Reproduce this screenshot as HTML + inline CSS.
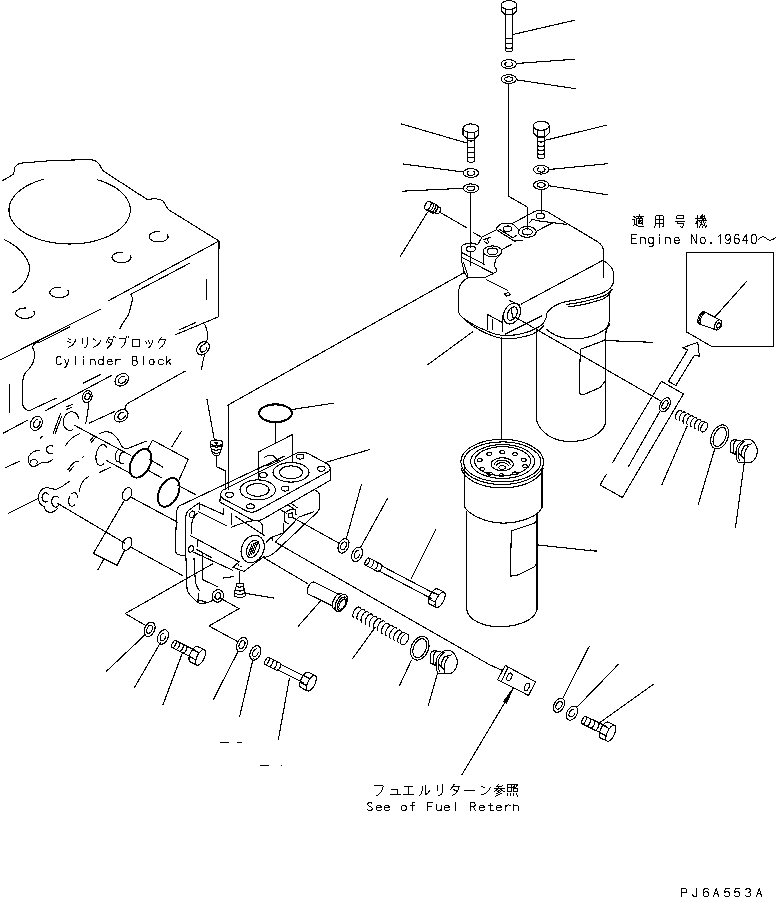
<!DOCTYPE html>
<html><head><meta charset="utf-8"><title>Fuel filter</title>
<style>
html,body{margin:0;padding:0;background:#fff;}
body{width:776px;height:897px;overflow:hidden;font-family:"Liberation Sans",sans-serif;}
svg{display:block}
svg *{vector-effect:none}
text{font-family:"Liberation Mono",monospace;fill:#000;stroke:none}
</style></head><body>
<svg width="776" height="897" viewBox="0 0 776 897" fill="none" stroke="#000" stroke-width="1.1" stroke-linecap="round" stroke-linejoin="round" shape-rendering="crispEdges">
<rect x="0" y="0" width="776" height="897" fill="#fff" stroke="none"/>
<ellipse cx="509" cy="4.968" rx="7.8" ry="4.368"/>
<line x1="501.2" y1="4.968" x2="501.2" y2="11.1"/>
<line x1="516.8" y1="4.968" x2="516.8" y2="11.1"/>
<polyline points="501.2,11.1 505.3,14.5 512.7,14.5 516.8,11.1"/>
<line x1="505.3" y1="8.4624" x2="505.3" y2="50.6"/>
<line x1="512.7" y1="8.8992" x2="512.7" y2="50.6"/>
<path d="M505.3,50.6 Q509,53.2 512.7,50.6"/>
<path d="M505.3,37.9 Q509,40.1 512.7,37.9"/>
<path d="M505.3,42.9 Q509,45.1 512.7,42.9"/>
<path d="M505.3,47.4 Q509,49.6 512.7,47.4"/>
<line x1="512.9" y1="34.5" x2="574" y2="20.4"/>
<ellipse cx="508.7" cy="64.1" rx="7.7" ry="4.4"/>
<polyline points="511.2,62.2 512.0,62.9 512.5,63.7 512.5,64.5 512.0,65.3 511.2,66.0 510.0,66.4 508.7,66.5 507.4,66.4 506.2,66.0 505.4,65.3 504.9,64.5 504.9,63.7 505.4,62.9 506.2,62.2"/>
<line x1="516.4" y1="63.5" x2="575" y2="59.2"/>
<ellipse cx="508.7" cy="79.1" rx="7.7" ry="4.4"/>
<ellipse cx="508.7" cy="79.1" rx="4.0040000000000004" ry="2.2"/>
<line x1="516.4" y1="79.8" x2="575" y2="88.6"/>
<polyline points="508.7,83.5 508.7,196.3 527.6,207.2 527.6,229"/>
<ellipse cx="470.9" cy="128.324" rx="7.9" ry="4.424"/>
<line x1="463.0" y1="128.324" x2="463.0" y2="135"/>
<line x1="478.79999999999995" y1="128.324" x2="478.79999999999995" y2="135"/>
<polyline points="463.0,135 467.2,138.6 474.59999999999997,138.6 478.79999999999995,135"/>
<line x1="467.2" y1="131.8632" x2="467.2" y2="161.2"/>
<line x1="474.59999999999997" y1="132.30560000000003" x2="474.59999999999997" y2="161.2"/>
<path d="M467.2,161.2 Q470.9,163.79999999999998 474.59999999999997,161.2"/>
<path d="M467.2,140 Q470.9,142.2 474.59999999999997,140"/>
<path d="M467.2,146.9 Q470.9,149.1 474.59999999999997,146.9"/>
<path d="M467.2,151.8 Q470.9,154.0 474.59999999999997,151.8"/>
<path d="M467.2,156.7 Q470.9,158.89999999999998 474.59999999999997,156.7"/>
<line x1="401.3" y1="123.9" x2="467.1" y2="143.1"/>
<ellipse cx="470.9" cy="173" rx="7.7" ry="4.4"/>
<polyline points="473.4,171.1 474.2,171.8 474.7,172.6 474.7,173.4 474.2,174.2 473.4,174.9 472.2,175.3 470.9,175.4 469.6,175.3 468.4,174.9 467.6,174.2 467.1,173.4 467.1,172.6 467.6,171.8 468.4,171.1"/>
<line x1="403.1" y1="164" x2="463.2" y2="172"/>
<ellipse cx="470.9" cy="188.3" rx="7.7" ry="4.4"/>
<ellipse cx="470.9" cy="188.3" rx="4.0040000000000004" ry="2.2"/>
<line x1="402" y1="191.2" x2="463" y2="188.3"/>
<line x1="470.7" y1="192.8" x2="470.7" y2="248"/>
<ellipse cx="541.2" cy="125.78" rx="8" ry="4.48"/>
<line x1="533.2" y1="125.78" x2="533.2" y2="133"/>
<line x1="549.2" y1="125.78" x2="549.2" y2="133"/>
<polyline points="533.2,133 537.6,137 544.8000000000001,137 549.2,133"/>
<line x1="537.6" y1="129.364" x2="537.6" y2="157.5"/>
<line x1="544.8000000000001" y1="129.812" x2="544.8000000000001" y2="157.5"/>
<path d="M537.6,157.5 Q541.2,160.1 544.8000000000001,157.5"/>
<path d="M537.6,141 Q541.2,143.2 544.8000000000001,141"/>
<path d="M537.6,145.5 Q541.2,147.7 544.8000000000001,145.5"/>
<path d="M537.6,149.5 Q541.2,151.7 544.8000000000001,149.5"/>
<path d="M537.6,153.5 Q541.2,155.7 544.8000000000001,153.5"/>
<line x1="545" y1="140.3" x2="606.4" y2="125.2"/>
<ellipse cx="541.2" cy="169.7" rx="7.7" ry="4.4"/>
<polyline points="543.7,167.8 544.5,168.5 545.0,169.3 545.0,170.1 544.5,170.9 543.7,171.6 542.5,172.0 541.2,172.1 539.9,172.0 538.7,171.6 537.9,170.9 537.4,170.1 537.4,169.3 537.9,168.5 538.7,167.8"/>
<line x1="549" y1="169.5" x2="607.8" y2="163.7"/>
<ellipse cx="541.2" cy="185" rx="7.7" ry="4.4"/>
<ellipse cx="541.2" cy="185" rx="4.0040000000000004" ry="2.2"/>
<line x1="549" y1="185.8" x2="607.8" y2="194.8"/>
<line x1="541.2" y1="189.5" x2="541.2" y2="214"/>
<g transform="translate(431.9,207.5) rotate(26)">
<ellipse cx="-4.5" cy="0" rx="2.6" ry="4.6"/>
<line x1="-4.5" y1="-4.6" x2="3" y2="-4.6"/>
<line x1="-4.5" y1="4.6" x2="3" y2="4.6"/>
<polyline points="-1.8,-4.6 -1.5,-4.6 -1.1,-4.4 -0.8,-4.2 -0.5,-4.0 -0.2,-3.6 0.0,-3.3 0.3,-2.8 0.5,-2.3 0.6,-1.8 0.7,-1.2 0.8,-0.6 0.8,0.0 0.8,0.6 0.7,1.2 0.6,1.8 0.5,2.3 0.3,2.8 0.0,3.3 -0.2,3.6 -0.5,4.0 -0.8,4.2 -1.1,4.4 -1.5,4.6 -1.8,4.6"/>
<polyline points="0.6,-4.6 0.9,-4.6 1.3,-4.4 1.6,-4.2 1.9,-4.0 2.2,-3.6 2.4,-3.3 2.7,-2.8 2.9,-2.3 3.0,-1.8 3.1,-1.2 3.2,-0.6 3.2,0.0 3.2,0.6 3.1,1.2 3.0,1.8 2.9,2.3 2.7,2.8 2.4,3.3 2.2,3.6 1.9,4.0 1.6,4.2 1.3,4.4 0.9,4.6 0.6,4.6"/>
<polyline points="3.0,-4.6 3.3,-4.6 3.7,-4.4 4.0,-4.2 4.3,-4.0 4.6,-3.6 4.8,-3.3 5.1,-2.8 5.3,-2.3 5.4,-1.8 5.5,-1.2 5.6,-0.6 5.6,0.0 5.6,0.6 5.5,1.2 5.4,1.8 5.3,2.3 5.1,2.8 4.8,3.3 4.6,3.6 4.3,4.0 4.0,4.2 3.7,4.4 3.3,4.6 3.0,4.6"/>
<line x1="3" y1="-3.6" x2="7" y2="-3.6"/>
<line x1="3" y1="3.6" x2="7" y2="3.6"/>
<ellipse cx="7" cy="0" rx="2" ry="3.6"/>
</g>
<line x1="427.3" y1="212.4" x2="400.4" y2="256.2"/>
<line x1="439.3" y1="212" x2="466.7" y2="227.7"/>
<line x1="473.4" y1="232.6" x2="481.9" y2="237.5"/>
<path d="M513.8,222.7 L535,211.3 C538,209.8 544,210 547.8,212 L597.7,241.8 C602,244.5 603.5,247 603.5,252 L603.5,277"/>
<ellipse cx="540.3" cy="215.9" rx="4.3" ry="2.8"/>
<polyline points="532.2,219.1 536.5,220.6 566.4,224.4"/>
<line x1="529.4" y1="222.7" x2="532.2" y2="219.4"/>
<line x1="537.9" y1="230.5" x2="553.7" y2="222.3"/>
<ellipse cx="527.3" cy="231.9" rx="8.9" ry="5.4"/>
<ellipse cx="527.3" cy="231.9" rx="5" ry="3.1"/>
<path d="M496.1,230 C496.5,226.5 500,223.6 504.5,223.3 L511,223.3 L513.8,224.8 L519.5,230.5"/>
<path d="M503.2,228.8 C503.2,226.5 505,226 507.4,226 C510,226 511.6,227.2 511.6,228.8 C511.6,230.6 510,231.6 507.4,231.6 C505,231.6 503.2,231 503.2,228.8Z"/>
<line x1="497.5" y1="230.5" x2="514.5" y2="241.1"/>
<line x1="499" y1="229" x2="512.4" y2="237.5"/>
<path d="M514.5,241.1 L522.3,240.1"/>
<line x1="513" y1="237.5" x2="517" y2="235"/>
<line x1="481.9" y1="237.1" x2="496.1" y2="230"/>
<ellipse cx="492.5" cy="251.3" rx="9.2" ry="5.4"/>
<ellipse cx="492.5" cy="251.3" rx="5.4" ry="3.3"/>
<line x1="501.7" y1="249.6" x2="511.7" y2="244.4"/>
<line x1="483.3" y1="252.4" x2="483.7" y2="263.8"/>
<path d="M500.3,254.6 L495.4,259.5 L494.6,266.6 L496.6,269 L496.8,271.5 L492.5,274 L485.4,277.2 L467.7,277.7"/>
<ellipse cx="470.8" cy="248.9" rx="4.5" ry="2.8"/>
<path d="M461.3,246.8 C462,244.5 464.2,243.6 471.3,243 L477.6,244.6 L479.8,241.1 L481.9,237.1"/>
<path d="M461.3,246.8 L461.6,261 L464.2,272.3 L467.7,277.7"/>
<line x1="463.5" y1="262.4" x2="467.7" y2="275.1"/>
<line x1="461.3" y1="252.4" x2="484.7" y2="264.5"/>
<line x1="462" y1="257.4" x2="492.5" y2="273"/>
<line x1="470.6" y1="252.4" x2="470.6" y2="265.2"/>
<line x1="483.5" y1="239.7" x2="491" y2="237.1"/>
<line x1="484.7" y1="241.8" x2="487.5" y2="243.9"/>
<line x1="487.5" y1="240" x2="489" y2="243"/>
<path d="M469,277.4 C464,279 459.5,284 458.6,290.2 L458.6,311 C459,314.5 461,316.5 463.2,318 C470,323 478,327.5 486.4,330.7 C492,333.5 498,335.4 505,335.4 C511,335.6 516,335 521.2,333.8 C527,332.5 532,330.7 536.3,328.4 C540.5,326.2 543,324 544.4,321.5 C546,319 546.7,316 546.7,313.4 C549,309.5 552,307 556,305.2 C559,303.5 562,302.5 565.3,301.8 C570,300.8 575,300 579.2,299.4 C586,298 592,296.6 597.7,294.8 C603,293 608,290.5 610.5,287.8 C613,285 613.8,283 613.5,280.9 C614.3,276 614,273 612.8,270.4 C611.5,266.5 608,263.5 604.7,261.2"/>
<path d="M465.5,320.3 C474,327.5 485,334 498,337.6 C503,339 510,339.2 517,338 C524,337 529,335.5 532.8,334.2 C538,331.5 541,329 543.5,326"/>
<path d="M566.4,304.5 C578,303 592,300 602.4,296.5 C607,294.5 610,292.5 612,289.5"/>
<path d="M568,307 C580,305.5 593,302.5 603,299 C607,297 609,295 610.5,292.5"/>
<line x1="603.5" y1="260" x2="521.2" y2="304.1"/>
<polyline points="486.4,279.7 507.5,290.3"/>
<polygon points="504.5,294 508.5,292.4 510.6,294.6 506.5,296"/>
<line x1="509.6" y1="300.6" x2="520" y2="305.2"/>
<ellipse cx="512" cy="313.6" rx="7.8" ry="11" transform="rotate(27 512 313.6)"/>
<ellipse cx="512.2" cy="313.6" rx="4.4" ry="7.2" transform="rotate(27 512.2 313.6)"/>
<line x1="511" y1="309" x2="513.2" y2="318.4"/>
<line x1="502.6" y1="315.7" x2="502.6" y2="331.9"/>
<polyline points="487.6,329.6 487.6,314.5 502.6,322.6"/>
<line x1="492.2" y1="319.2" x2="492.2" y2="329.6"/>
<line x1="542" y1="315.7" x2="505" y2="334.2"/>
<line x1="515.6" y1="317.4" x2="661.2" y2="401.2"/>
<line x1="227.8" y1="405.2" x2="463.5" y2="273"/>
<line x1="428" y1="364.5" x2="472.5" y2="331.9"/>
<line x1="536.3" y1="327.5" x2="536.3" y2="417.4"/>
<path d="M536.3,417.4 C537,428 548,439.5 564.9,441.2 C578,442 588,439.5 593.9,436.2 C601,432 605.5,428 605.6,421.5 L605.6,332"/>
<path d="M546.7,329.6 C550,332.5 553,334 556,335.4 C562,338 568,338.9 574.5,338.9 C581,338.9 586,338 590.8,336.5 C596,334.8 600,332.8 604.7,329.6 C607,328 609,326.5 609.6,324"/>
<path d="M609.6,292 L609.6,320.2 L606,332.5"/>
<path d="M605.9,339 L602.4,341.2 L580.3,349.3 L579.2,392.2 C580,394.5 582,395 583.8,394.5 L600,387.6 L605.6,380.6"/>
<line x1="606.7" y1="340.6" x2="652.6" y2="342.3"/>
<line x1="501.5" y1="337.7" x2="501.5" y2="439.1"/>
<ellipse cx="502.2" cy="461.9" rx="41.4" ry="22.6"/>
<ellipse cx="502.2" cy="461.9" rx="38.7" ry="20"/>
<ellipse cx="502.6" cy="461.5" rx="32" ry="16.9"/>
<ellipse cx="502.6" cy="461.2" rx="28" ry="14.5"/>
<polyline points="543.2,468.4 542.2,471.1 540.7,473.6 538.6,476.1 536.0,478.4 532.9,480.5 529.4,482.4 525.5,484.0 521.2,485.4 516.7,486.5 512.0,487.3 507.1,487.7 502.2,487.9 497.3,487.7 492.4,487.3 487.7,486.5 483.2,485.4 478.9,484.0 475.0,482.4 471.5,480.5 468.4,478.4 465.8,476.1 463.7,473.6 462.2,471.1 461.2,468.4"/>
<ellipse cx="502.2" cy="464.2" rx="11.1" ry="6.5"/>
<polyline points="494.2,464.8 494.3,464.2 494.5,463.6 494.8,463.0 495.3,462.5 495.9,462.0 496.5,461.5 497.3,461.2 498.2,460.8 499.1,460.6 500.1,460.4 501.2,460.2 502.2,460.2 503.2,460.2 504.3,460.4 505.3,460.6 506.2,460.8 507.1,461.2 507.9,461.5 508.5,462.0 509.1,462.5 509.6,463.0 509.9,463.6 510.1,464.2 510.2,464.8"/>
<polyline points="496.2,466.0 496.3,465.6 496.4,465.1 496.7,464.7 497.0,464.3 497.4,463.9 498.0,463.6 498.5,463.3 499.2,463.1 499.9,462.9 500.6,462.7 501.4,462.6 502.2,462.6 503.0,462.6 503.8,462.7 504.5,462.9 505.2,463.1 505.9,463.3 506.4,463.6 507.0,463.9 507.4,464.3 507.7,464.7 508.0,465.1 508.1,465.6 508.2,466.0"/>
<polyline points="505.7,467.5 505.6,468.0 505.2,468.4 504.7,468.8 503.9,469.1 503.1,469.2 502.2,469.3 501.3,469.2 500.4,469.1 499.7,468.8 499.2,468.4 498.8,468.0 498.7,467.5 498.8,467.0 499.2,466.6 499.7,466.2 500.4,465.9 501.3,465.8 502.2,465.7 503.1,465.8 503.9,465.9 504.7,466.2 505.2,466.6 505.6,467.0 505.7,467.5"/>
<ellipse cx="489.2" cy="453.8" rx="2.4" ry="1.5"/>
<ellipse cx="502.2" cy="452.1" rx="2.4" ry="1.5"/>
<ellipse cx="515" cy="454.1" rx="2.4" ry="1.5"/>
<ellipse cx="523.7" cy="459.9" rx="2.4" ry="1.5"/>
<ellipse cx="525.1" cy="466.3" rx="2.4" ry="1.5"/>
<ellipse cx="479.8" cy="460.2" rx="2.4" ry="1.5"/>
<ellipse cx="482.2" cy="469" rx="2.4" ry="1.5"/>
<ellipse cx="489.9" cy="473.7" rx="2.4" ry="1.5"/>
<ellipse cx="501.4" cy="475.3" rx="2.4" ry="1.5"/>
<ellipse cx="515" cy="473.5" rx="2.4" ry="1.5"/>
<line x1="464.2" y1="468" x2="464.2" y2="506.2"/>
<line x1="542" y1="468" x2="542" y2="507.5"/>
<path d="M464.2,506.2 C468,514 484,522.5 502.2,523.1 C518,523.3 533,518 539.3,511.6 L542,507.5"/>
<line x1="466.8" y1="511.6" x2="466.8" y2="610"/>
<line x1="537" y1="513.5" x2="537" y2="610"/>
<path d="M466.8,610 C468,619 482,626.5 498.3,626.7 C516,627 534,621 537,610"/>
<path d="M537.3,519 L534.5,523.2 L511.3,531 L510.4,576.2 L518.6,574.8 L534.5,566.7 L537,563"/>
<line x1="537.4" y1="544.9" x2="596.8" y2="551.3"/>
<polygon points="686.5,252.3 773.7,252.3 773.7,346.1 711.1,346.1 686.5,331.9"/>
<g transform="translate(700.8,317.4) rotate(23.5)">
<polyline points="1.3,6.7 0.4,6.6 -0.4,6.0 -1.2,4.9 -1.7,3.5 -2.1,1.8 -2.2,0.0 -2.1,-1.8 -1.7,-3.5 -1.2,-4.9 -0.4,-6.0 0.4,-6.6 1.3,-6.7"/>
<polyline points="1.7,6.6 0.9,6.0 0.1,4.9 -0.4,3.5 -0.8,1.8 -0.9,-0.1 -0.8,-2.0 -0.4,-3.7 0.2,-5.1 1.0,-6.1 1.9,-6.6"/>
<polyline points="3.0,6.4 2.2,5.8 1.4,4.8 0.9,3.4 0.5,1.7 0.4,-0.1 0.5,-1.9 0.9,-3.6 1.5,-4.9 2.3,-5.9 3.2,-6.4"/>
<line x1="1.2" y1="-6.7" x2="4.5" y2="-6.5"/>
<line x1="4.5" y1="-6.3" x2="19" y2="-5.3"/>
<line x1="1.2" y1="6.7" x2="19" y2="5.3"/>
<ellipse cx="19" cy="0" rx="3.2" ry="5.3"/>
<ellipse cx="19.4" cy="0.3" rx="1.6" ry="2.8"/>
</g>
<line x1="715.5" y1="316.3" x2="747.1" y2="280.9"/>
<polygon points="668.4,381.3 687.7,350 682.6,347.8 697.7,342.3 699.4,356.2 694.3,355.3 675.9,385.5"/>
<polyline points="612.8,462.3 661.3,381.3 683.5,393.9 622.4,497.5 600,485 606.3,474.3"/>
<line x1="659.5" y1="412" x2="628.4" y2="466.6"/>
<ellipse cx="665" cy="404.8" rx="4.6" ry="7.6" transform="rotate(28 665 404.8)"/>
<ellipse cx="665" cy="404.8" rx="2.4" ry="4.6" transform="rotate(28 665 404.8)"/>
<line x1="650" y1="342.3" x2="652.6" y2="342.3"/>
<g transform="translate(677.8,414.4) rotate(25.9)">
<polyline points="0.8,5.2 0.1,4.8 -0.6,4.1 -1.1,3.0 -1.4,1.6 -1.6,0.2 -1.5,-1.3 -1.2,-2.7 -0.7,-3.9 -0.1,-4.7 0.7,-5.1 1.4,-5.1 2.1,-4.7"/>
<polyline points="5.0,5.2 4.3,4.8 3.6,4.1 3.1,3.0 2.8,1.6 2.6,0.2 2.7,-1.3 3.0,-2.7 3.5,-3.9 4.1,-4.7 4.9,-5.1 5.6,-5.1 6.3,-4.7"/>
<polyline points="9.2,5.2 8.5,4.8 7.8,4.1 7.3,3.0 7.0,1.6 6.8,0.2 6.9,-1.3 7.2,-2.7 7.7,-3.9 8.3,-4.7 9.0,-5.1 9.8,-5.1 10.5,-4.7"/>
<polyline points="13.4,5.2 12.7,4.8 12.0,4.1 11.5,3.0 11.1,1.6 11.0,0.2 11.1,-1.3 11.4,-2.7 11.9,-3.9 12.5,-4.7 13.2,-5.1 14.0,-5.1 14.7,-4.7"/>
<polyline points="17.6,5.2 16.8,4.8 16.2,4.1 15.7,3.0 15.3,1.6 15.2,0.2 15.3,-1.3 15.6,-2.7 16.1,-3.9 16.7,-4.7 17.4,-5.1 18.2,-5.1 18.9,-4.7"/>
<polyline points="21.8,5.2 21.0,4.8 20.4,4.1 19.9,3.0 19.5,1.6 19.4,0.2 19.5,-1.3 19.8,-2.7 20.3,-3.9 20.9,-4.7 21.6,-5.1 22.4,-5.1 23.1,-4.7"/>
<polyline points="26.0,5.2 25.2,4.8 24.6,4.1 24.1,3.0 23.7,1.6 23.6,0.2 23.7,-1.3 24.0,-2.7 24.5,-3.9 25.1,-4.7 25.8,-5.1 26.6,-5.1 27.3,-4.7"/>
<ellipse cx="29.339393313427685" cy="0" rx="2.8600000000000003" ry="5.2"/>
</g>
<line x1="687" y1="426.3" x2="661.9" y2="484.6"/>
<ellipse cx="719.7" cy="436.9" rx="8.2" ry="12.6" transform="rotate(24 719.7 436.9)"/>
<ellipse cx="719.7" cy="436.9" rx="5.799999999999999" ry="10.2" transform="rotate(24 719.7 436.9)"/>
<line x1="714.4" y1="450" x2="698.3" y2="504.2"/>
<g transform="translate(744.6,451.4)">
<path d="M-9.5,-11.7 C-13,-11.5 -14.5,-9 -14.5,-6 L-14.5,0.5 L-9,3"/>
<path d="M-8,-11.2 C-10.5,-10 -11,-8.5 -11.2,-6 L-11.6,1.8"/>
<line x1="-9.5" y1="-11.7" x2="-3.4" y2="-10.4"/>
<path d="M9,-9.4 C7,-11.5 5,-12 3.9,-12 C0,-12 -2,-11 -3.4,-9.8 C-6.5,-7 -8.3,-4 -8.5,-1.2 C-8.8,3 -8.5,7 -7.5,9.1 C-7,10.3 -6.3,11 -5.4,11.2 L5.9,11.2"/>
<path d="M-0.6,-9.8 C-4,-7 -5.8,-4 -6,-1.2 C-6.3,3 -6,7 -5.2,9.2"/>
<path d="M9,-9.4 C11.5,-6 12.6,-3.5 12.6,-1.2 C12.8,2 12.3,4.5 11.1,6.1 C9.8,8.5 8,10.3 5.9,11.2"/>
<path d="M7,-7.6 L-0.3,-5.3 C-2.5,-2.5 -3.3,0.5 -3.2,3.4"/>
<line x1="-0.3" y1="3" x2="-0.3" y2="11.2"/>
<line x1="-5.9" y1="1.9" x2="-0.3" y2="7.1"/>
<path d="M-0.3,3 C0.3,-0.5 1.6,-3 3.6,-5.2"/>
</g>
<line x1="744.3" y1="462.5" x2="735.5" y2="527.5"/>
<path d="M2,181 L13,174.5 C15,172 14,169 15,167 C17,164 19,163.5 22,163 L53,160.5 L90,159.6 C95,160 97,161.5 99,164 C101,167 102,170 104,171.5 L148,200 C150,199 152,198.6 154,199 C158,198.5 161,199.5 163,201 C166,204 166,208 169,210 L219,241"/>
<line x1="219" y1="241" x2="218.7" y2="316.7"/>
<line x1="219" y1="241" x2="108" y2="301"/>
<path d="M190,263 L130.4,294.5 C133,297 133,299.5 131.9,301.9 C130.5,307 130,312 127.4,316.7 C124,321 121.5,324.5 120,328.6"/>
<line x1="218.7" y1="316.7" x2="176" y2="334.5"/>
<line x1="195.6" y1="322.6" x2="179" y2="330"/>
<path d="M204.5,324.1 C206.5,328 208,333 207.5,337.5 C207,341 206,343 204.5,344"/>
<line x1="206.6" y1="279.7" x2="206.6" y2="299"/>
<polyline points="97.2,179.7 101.9,181.2 106.3,182.9 110.5,184.9 114.3,187.0 117.8,189.3 120.9,191.8 123.6,194.5 125.9,197.2 127.7,200.1 129.0,203.0 129.9,206.0 130.3,209.1 130.2,212.1 129.6,215.1 128.6,218.1 127.0,221.0 125.1,223.8 122.6,226.5 119.8,229.1 116.5,231.6 112.9,233.8 109.0,235.9 104.7,237.7 100.1,239.4 95.3,240.8 90.3,242.0 85.2,242.9 79.9,243.5 74.5,243.9 69.1,244.0 63.7,243.8 58.3,243.4 53.0,242.7 47.9,241.7 42.9,240.5 38.2,239.1 33.7,237.4 29.4,235.5 25.5,233.4 22.0,231.1 18.8,228.6 16.1,226.0 13.7,223.3 11.8,220.4 10.4,217.5 9.4,214.5 9.0,211.5 9.0,208.5 9.4,205.4 10.4,202.4 11.9,199.5 13.8,196.7 16.1,193.9 18.9,191.3 22.0,188.9 25.6,186.6 29.5,184.5 33.7,182.6 38.2,180.9 43.0,179.4"/>
<path d="M4.4,239.7 C16,245 26,254 29.6,266 C30,278 22,288 11.9,293"/>
<polyline points="167.2,234.5 167.9,235.6 168.1,236.7 167.9,237.8 167.2,238.9 166.1,239.9 164.7,240.7 163.0,241.3 161.1,241.7 159.0,241.9 157.0,241.8 155.0,241.5 153.2,241.0 151.6,240.2 150.4,239.3 149.5,238.3 149.1,237.2 149.2,236.0 149.7,234.9 150.6,233.9 151.9,233.0 153.5,232.3 155.4,231.8 157.4,231.5 159.4,231.5"/>
<polyline points="130.1,255.2 130.8,256.3 131.0,257.4 130.8,258.5 130.1,259.6 129.0,260.6 127.6,261.4 125.9,262.0 124.0,262.4 121.9,262.6 119.9,262.5 117.9,262.2 116.1,261.7 114.5,260.9 113.3,260.0 112.4,259.0 112.0,257.9 112.1,256.7 112.6,255.6 113.5,254.6 114.8,253.7 116.4,253.0 118.3,252.5 120.3,252.2 122.3,252.2"/>
<polyline points="67.9,290.2 68.6,291.3 68.8,292.4 68.6,293.5 67.9,294.6 66.8,295.6 65.4,296.4 63.7,297.0 61.8,297.4 59.7,297.6 57.7,297.5 55.7,297.2 53.9,296.7 52.3,295.9 51.1,295.0 50.2,294.0 49.8,292.9 49.9,291.7 50.4,290.6 51.3,289.6 52.6,288.7 54.2,288.0 56.1,287.5 58.1,287.2 60.1,287.2"/>
<polyline points="33.8,311.0 34.5,312.1 34.7,313.2 34.5,314.3 33.8,315.4 32.7,316.4 31.3,317.2 29.6,317.8 27.7,318.2 25.6,318.4 23.6,318.3 21.6,318.0 19.8,317.5 18.2,316.7 17.0,315.8 16.1,314.8 15.7,313.7 15.8,312.5 16.3,311.4 17.2,310.4 18.5,309.5 20.1,308.8 22.0,308.3 24.0,308.0 26.0,308.0"/>
<line x1="0" y1="360" x2="100.8" y2="309"/>
<line x1="38.1" y1="343" x2="69.6" y2="327"/>
<path d="M38.1,341.7 C34,344 32,346 32.8,348 C35,352 35,356 33.9,359.7 C33,364 31,366 29.7,368.1 C27,371 25,373 24.4,374.5 C23,377 22.9,379 22.9,380.8 L22.9,405.2 C24,409 27,410.5 29.7,410.5 L56.1,398.2"/>
<line x1="9.1" y1="384" x2="9.1" y2="412.6"/>
<line x1="83.7" y1="383" x2="100.6" y2="374.5"/>
<line x1="3.2" y1="433.2" x2="28" y2="420"/>
<line x1="45" y1="411" x2="111.2" y2="375.6"/>
<ellipse cx="36.3" cy="423.4" rx="7.4" ry="5.6" transform="rotate(-62 36.3 423.4)"/>
<polyline points="40.0,421.5 40.0,423.1 39.5,424.7 38.5,426.1 37.2,427.1 35.8,427.4 34.6,427.0 33.8,426.0 33.5,424.5 33.8,422.8 34.6,421.3 35.8,420.1 37.2,419.5"/>
<ellipse cx="121.8" cy="379.8" rx="7.4" ry="5.6" transform="rotate(-35 121.8 379.8)"/>
<polyline points="126.0,379.5 125.3,381.0 124.1,382.2 122.6,383.0 121.0,383.2 119.6,382.9 118.7,382.0 118.5,380.7 118.9,379.3 119.9,377.9 121.3,376.9 122.9,376.4 124.4,376.5"/>
<ellipse cx="121.2" cy="415.8" rx="7.4" ry="5.6" transform="rotate(-35 121.2 415.8)"/>
<polyline points="125.4,415.5 124.7,417.0 123.5,418.2 122.0,419.0 120.4,419.2 119.0,418.9 118.1,418.0 117.9,416.7 118.3,415.3 119.3,413.9 120.7,412.9 122.3,412.4 123.8,412.5"/>
<ellipse cx="87.3" cy="396.7" rx="4.6" ry="6.2" transform="rotate(20 87.3 396.7)"/>
<ellipse cx="87.5" cy="396.5" rx="2.4" ry="3.6" transform="rotate(20 87.5 396.5)"/>
<path d="M88.5,402.8 C88.5,410 87,417 85.8,423.2"/>
<line x1="89" y1="423.2" x2="114.4" y2="411.6"/>
<path d="M125,409.4 C125,406 126,404.5 127.6,403.5 L185.2,371.1"/>
<ellipse cx="203" cy="348.3" rx="7.4" ry="5.6" transform="rotate(-50 203 348.3)"/>
<polyline points="207.0,347.1 206.7,348.6 205.9,350.1 204.6,351.3 203.1,352.0 201.7,352.0 200.6,351.3 200.0,350.2 200.0,348.7 200.7,347.1 201.8,345.8 203.2,344.9 204.7,344.5"/>
<path d="M204.5,354.8 C203,360 202,365 201.5,369.6"/>
<polyline points="72.6,429.9 70.8,430.4 69.0,430.3 67.3,429.7 65.8,428.6 64.6,427.1 63.8,425.3 63.3,423.2 63.3,421.1 63.7,418.9 64.5,416.9 65.7,415.0 67.2,413.6 68.8,412.5 70.6,411.9 72.5,411.8 74.2,412.3 75.7,413.2 77.0,414.6 78.0,416.3 78.6,418.3"/>
<line x1="74.5" y1="425.3" x2="130.8" y2="455.5"/>
<line x1="53" y1="433.8" x2="60.4" y2="413.7"/>
<line x1="55" y1="434" x2="61.8" y2="416"/>
<line x1="66" y1="407" x2="72.5" y2="404.5"/>
<line x1="66.5" y1="409.5" x2="71" y2="407.6"/>
<path d="M29,456 C32,452 36,450 40,451 M29,456 C27.5,460 28.5,464 32,466.5 C36,467.5 38,464 42,462.5 C46,463.5 50,462 53,459"/>
<polyline points="31.0,463.2 30.5,462.2 30.7,461.1 31.5,460.2 32.8,459.7 34.3,459.5 35.8,459.8 36.9,460.6 37.4,461.6 37.4,462.6 36.7,463.6"/>
<polyline points="53.0,453.2 51.6,453.6 50.0,453.6 48.5,453.2 47.4,452.3 46.6,451.1 46.3,449.7 46.6,448.3 47.4,447.1 48.5,446.2 50.0,445.8 51.6,445.8 53.0,446.2"/>
<line x1="5.3" y1="467.7" x2="19.1" y2="461.4"/>
<path d="M65.7,445.5 C69,440 74,436 79.4,433.8"/>
<line x1="40.5" y1="438" x2="43" y2="436"/>
<line x1="82" y1="458" x2="84" y2="456"/>
<polyline points="103.8,463.6 102.4,464.8 101.0,465.4 99.5,465.4 98.3,464.6 97.2,463.3 96.4,461.5 96.0,459.2 95.9,456.7 96.2,454.0 96.8,451.5 97.8,449.1 99.0,447.1 100.3,445.7 101.8,444.8 103.2,444.5 104.6,444.9 105.7,446.0 106.7,447.6"/>
<polyline points="119.1,460.9 117.8,461.4 116.7,461.0 115.8,459.8 115.4,457.8 115.5,455.5 116.0,453.2 117.0,451.2 118.1,450.0 119.4,449.6 120.5,450.1"/>
<polyline points="123.1,463.4 121.8,463.9 120.7,463.5 119.8,462.3 119.4,460.3 119.5,458.0 120.0,455.7 121.0,453.7 122.1,452.5 123.4,452.1 124.5,452.6"/>
<line x1="106.5" y1="460.5" x2="130.5" y2="473.5"/>
<path d="M99.6,433.8 C104,430.5 110,431.5 113,434 C117,437 119,441 120.5,444 C122,447.5 125,449 128,448.5 L146.2,441.2"/>
<line x1="90" y1="441" x2="94" y2="436"/>
<line x1="91.5" y1="442" x2="95.5" y2="437.5"/>
<line x1="99.5" y1="472.5" x2="110" y2="467.5"/>
<line x1="67.8" y1="469.8" x2="72" y2="464.5"/>
<line x1="69.5" y1="471" x2="74" y2="466"/>
<path d="M72,464.5 C74,462 76,461 78,461.5"/>
<path d="M79.4,491 C80,484 84,479 89,476.2"/>
<path d="M38.5,498.6 C38,493 41,488.5 46,487.5 C50,487.5 53,490 57,489 C62,487 66,484 69,481.5"/>
<path d="M38.5,498.6 C39,503 41,505.5 44,506.5 C45,510 47,512 50,512.5 C54,512.5 56,510 58,508"/>
<polyline points="47.9,500.9 46.7,501.8 45.3,502.0 43.9,501.5 42.8,500.4 42.2,498.8 42.0,497.0 42.4,495.3 43.3,493.9 44.5,493.0 45.9,492.8 47.3,493.3 48.4,494.4"/>
<polyline points="58.9,505.2 57.8,506.4 56.5,507.1 55.1,507.1 53.8,506.4 52.7,505.2 52.0,503.5 51.8,501.6 52.0,499.7 52.7,498.0 53.8,496.8 55.1,496.1 56.5,496.1 57.8,496.8 58.9,498.0"/>
<polyline points="75.0,504.7 74.1,505.6 73.0,506.1 72.0,506.3 71.1,506.2 70.2,505.7 69.5,504.8 69.0,503.7 68.7,502.3 68.7,500.8 68.9,499.2 69.3,497.6 69.9,496.2"/>
<polyline points="71.9,493.6 72.8,493.0 73.8,492.7 74.7,492.7 75.6,493.0 76.3,493.7 76.9,494.6 77.3,495.7 77.5,497.1"/>
<line x1="8.5" y1="513.3" x2="38.1" y2="498.4"/>
<line x1="57.8" y1="503.5" x2="124.5" y2="543"/>
<ellipse cx="127.1" cy="494.1" rx="4.4" ry="6.8" transform="rotate(25 127.1 494.1)"/>
<ellipse cx="127.1" cy="543.9" rx="4.4" ry="6.8" transform="rotate(25 127.1 543.9)"/>
<line x1="131.4" y1="497.4" x2="177.8" y2="522.3"/>
<line x1="131.4" y1="547.5" x2="182.4" y2="575.5"/>
<polyline points="124.5,500 93.4,553.4 117.1,565.2 124.8,549.8"/>
<line x1="103.7" y1="559.3" x2="97.8" y2="570"/>
<ellipse cx="140.6" cy="463.3" rx="9.5" ry="15.3" transform="rotate(27 140.6 463.3)" stroke-width="1.9"/>
<ellipse cx="168.7" cy="492.4" rx="9.5" ry="15.3" transform="rotate(27 168.7 492.4)" stroke-width="1.9"/>
<polyline points="147.3,449.7 152.6,440.2 188.2,459.4 179.3,479.3"/>
<line x1="171.9" y1="446.7" x2="181.4" y2="431.3"/>
<line x1="148.2" y1="470.4" x2="161.5" y2="477.8"/>
<line x1="177.8" y1="485.2" x2="195.6" y2="494.7"/>
<line x1="150" y1="459.5" x2="163" y2="467.2"/>
<g transform="translate(216.3,448)">
<ellipse cx="0" cy="-5.2" rx="6.3" ry="2.8"/>
<path d="M-1.6,-5.8 L1.6,-5.8 L0,-3.9 Z"/>
<line x1="-6.3" y1="-5.2" x2="-5.9" y2="-2.2"/>
<line x1="6.3" y1="-5.2" x2="5.9" y2="-2.2"/>
<path d="M-5.9,-2.2 Q0,0.3999999999999999 5.9,-2.2"/>
<line x1="-5.9" y1="-2.2" x2="-5.1" y2="0.9"/>
<line x1="5.9" y1="-2.2" x2="5.1" y2="0.9"/>
<path d="M-5.1,0.9 Q0,3.5 5.1,0.9"/>
<line x1="-5.1" y1="0.9" x2="-4.1" y2="4"/>
<line x1="5.1" y1="0.9" x2="4.1" y2="4"/>
<path d="M-4.1,4 Q0,6.6 4.1,4"/>
<line x1="-4.1" y1="4" x2="-3.1" y2="6.6"/>
<line x1="4.1" y1="4" x2="3.1" y2="6.6"/>
<path d="M-3.1,6.6 Q0,9.2 3.1,6.6"/>
</g>
<line x1="207" y1="399.3" x2="214.5" y2="440.8"/>
<polyline points="216.5,456 216.5,466.7 225.6,470.9 225.6,489.7"/>
<ellipse cx="275.5" cy="413.2" rx="16.3" ry="8.9" stroke-width="2.1"/>
<line x1="291.5" y1="409.6" x2="333.9" y2="403.1"/>
<line x1="275.5" y1="422.3" x2="275.5" y2="442.5"/>
<polyline points="258.2,480 258.2,452.1 292.8,434.4 292.8,462.6"/>
<line x1="228.2" y1="405.2" x2="228.2" y2="490"/>
<path d="M223.1,489.9 L295.5,453.7 C298,452.2 304,451.3 308.4,453.7 L327.8,464.2 C330.5,465.8 331,469.5 328.6,471.4 L256.9,510.9 C254,512.6 249,512.6 246.4,510.9 L223.1,498.8 C219.8,497 219.8,492 223.1,489.9Z"/>
<path d="M220.3,494.5 L219.9,502 L250,518.8 C254,521 259,521 263.3,518.9 L330.2,480.3 L330.4,467.6"/>
<ellipse cx="257.7" cy="489.9" rx="17.7" ry="10"/>
<ellipse cx="257.7" cy="489.9" rx="11.4" ry="6.4"/>
<ellipse cx="291" cy="472.3" rx="18" ry="9.8"/>
<ellipse cx="291" cy="472.3" rx="11.5" ry="6.5"/>
<ellipse cx="229.5" cy="494.8" rx="3.8" ry="2.5"/>
<ellipse cx="250.4" cy="506.4" rx="3.8" ry="2.5"/>
<ellipse cx="263.3" cy="475.1" rx="3.8" ry="2.5"/>
<ellipse cx="285.1" cy="488.6" rx="3.8" ry="2.5"/>
<ellipse cx="300.1" cy="456.6" rx="3.8" ry="2.5"/>
<ellipse cx="321.3" cy="468.7" rx="3.8" ry="2.5"/>
<line x1="325.6" y1="462.4" x2="369.2" y2="449.7"/>
<line x1="178.9" y1="506.1" x2="285" y2="455.9"/>
<path d="M264.9,457.2 L268.2,455.3 C271,454.6 273.5,455.5 275,457.2 L277.8,460.1"/>
<line x1="266.5" y1="465.8" x2="279.4" y2="460.1"/>
<path d="M178.9,506.1 C176.5,509 176.4,511 176.4,514.2 L175.4,551.3 C176,553.5 177.5,554.8 178.9,554.8 L185.9,556"/>
<path d="M199.8,502.6 L189.4,509.6 C187,511.5 185.9,514 185.9,516.5 L185.9,556"/>
<path d="M197.5,513.2 C194.5,516 192.5,519.5 192,522.5 L191.3,533.3"/>
<line x1="199.8" y1="502.6" x2="199.8" y2="509.6"/>
<line x1="199.8" y1="503.8" x2="223" y2="514.2"/>
<line x1="198.6" y1="511.9" x2="226.5" y2="525.8"/>
<ellipse cx="192.1" cy="514.2" rx="2.4" ry="3.4" transform="rotate(30 192.1 514.2)"/>
<ellipse cx="191" cy="549" rx="2.4" ry="3.4" transform="rotate(30 191 549)"/>
<line x1="190.5" y1="535.6" x2="239.2" y2="561.9"/>
<line x1="197.5" y1="539.5" x2="197.5" y2="546.4"/>
<line x1="195.9" y1="549" x2="211.4" y2="557.6"/>
<line x1="192.8" y1="551.8" x2="233" y2="570.4"/>
<ellipse cx="252.7" cy="549" rx="11" ry="14.2" transform="rotate(25 252.7 549)"/>
<ellipse cx="252.9" cy="549" rx="5.8" ry="9.2" transform="rotate(25 252.9 549)"/>
<line x1="247.5" y1="556.2" x2="252" y2="544.2"/>
<line x1="249.5" y1="555.4" x2="254" y2="543.4"/>
<line x1="251.5" y1="554.6" x2="256" y2="542.6"/>
<line x1="253.5" y1="553.8" x2="258" y2="541.8"/>
<line x1="223.8" y1="508.6" x2="223.8" y2="514.7"/>
<line x1="231.5" y1="513.2" x2="231.5" y2="524"/>
<line x1="231.5" y1="527.1" x2="242.3" y2="523.2"/>
<line x1="235.4" y1="516.3" x2="264" y2="535.3"/>
<path d="M242.3,523.2 C248,521 253,520.3 257.8,520.9 C260.5,522 262,523.5 262.4,525.6 L262.7,534.8"/>
<path d="M314.9,489.9 C318,491.5 320,494 319.9,496.4 L319.7,507.7 C319,510 318,511.5 317,512.5 L275.3,551.9 C272,555 268,556.8 264.5,557.3"/>
<line x1="313.5" y1="511.9" x2="300.4" y2="516.5"/>
<line x1="299.5" y1="516.5" x2="275.2" y2="542.1"/>
<path d="M284.3,514.1 L285.1,522.2 L288.5,523.5"/>
<path d="M284.3,514.1 C286,511.5 289,509.8 292.3,509.3 L295.5,509.3 L296,515"/>
<polygon points="288.5,513.5 292.5,512.8 293,517 289,517.6"/>
<line x1="291.5" y1="503.6" x2="297.2" y2="507.7"/>
<line x1="288.6" y1="505.2" x2="293.5" y2="508.8"/>
<line x1="281" y1="510.1" x2="286.7" y2="513.3"/>
<line x1="283.3" y1="523" x2="283.3" y2="533"/>
<line x1="292.3" y1="517.3" x2="339" y2="543.2"/>
<path d="M283.3,533 L270,538 L266,543"/>
<path d="M268.5,539.5 L272,538.2 L273,541"/>
<path d="M239.2,561.9 L233,567.3 L243.9,571.4 L264,556.5"/>
<line x1="238" y1="565" x2="238.6" y2="565"/>
<line x1="240.8" y1="566.5" x2="241.4" y2="566.5"/>
<line x1="264.7" y1="558.3" x2="308" y2="583.8"/>
<line x1="275.2" y1="542.1" x2="490" y2="665"/>
<line x1="490" y1="665" x2="502.1" y2="670.3"/>
<path d="M185.9,556 L187,588.5 C187.5,592 190,595.5 192.8,597.7 C195,600.5 197,602.5 199.8,603.5 C205,603.8 210,602 213.7,600"/>
<path d="M194,558.3 L195.2,579.2 C195.5,584 197,588 199.8,591"/>
<line x1="202.9" y1="552" x2="202.9" y2="579.7"/>
<line x1="202.9" y1="579.7" x2="218" y2="587"/>
<path d="M197.5,600 L206,601.8"/>
<ellipse cx="217.9" cy="595.9" rx="2.6" ry="3.4" transform="rotate(25 217.9 595.9)"/>
<ellipse cx="217.8" cy="595.9" rx="5.6" ry="6.3" transform="rotate(20 217.8 595.9)"/>
<path d="M223,578.1 L233,576.6"/>
<line x1="198.2" y1="593.6" x2="198.2" y2="602.1"/>
<line x1="219.5" y1="597.7" x2="239.1" y2="608.6"/>
<line x1="239.2" y1="571.3" x2="239.2" y2="583.8"/>
<g transform="translate(239.8,591)">
<path d="M-3.6,-4.6 L-3.6,-7 Q0,-8.4 3.6,-7 L3.6,-4.6"/>
<path d="M-3.6,-4.6 Q0,-3.2 3.6,-4.6"/>
<line x1="-3.6" y1="-4.6" x2="-4.6" y2="-1.4"/>
<line x1="3.6" y1="-4.6" x2="4.6" y2="-1.4"/>
<path d="M-4.6,-1.4 Q0,1.6 4.6,-1.4"/>
<line x1="-4.6" y1="-1.4" x2="-5.3" y2="2"/>
<line x1="4.6" y1="-1.4" x2="5.3" y2="2"/>
<path d="M-5.3,2 Q0,5 5.3,2"/>
<line x1="-5.3" y1="2" x2="-5.5" y2="5"/>
<line x1="5.3" y1="2" x2="5.5" y2="5"/>
<path d="M-5.5,5 Q0,8 5.5,5"/>
</g>
<line x1="245.9" y1="593.4" x2="273.4" y2="598"/>
<polyline points="212.3,564 125.2,613.6 145.3,625.3"/>
<polyline points="219.5,597.7 239.1,608.6 208.9,626 237.4,641.4"/>
<ellipse cx="149.6" cy="629.3" rx="5" ry="7.6" transform="rotate(25 149.6 629.3)"/>
<ellipse cx="149.6" cy="629.3" rx="2.6" ry="4.2" transform="rotate(25 149.6 629.3)"/>
<line x1="145.3" y1="634.5" x2="106.1" y2="671.6"/>
<ellipse cx="163" cy="637" rx="5" ry="7.6" transform="rotate(25 163 637)"/>
<polyline points="165.8,636.7 165.3,638.3 164.4,639.6 163.3,640.5 162.1,641.0 161.1,640.8 160.4,640.0 160.1,638.8 160.2,637.3 160.7,635.7 161.6,634.4 162.7,633.5 163.9,633.0"/>
<line x1="160.4" y1="642.8" x2="134.6" y2="687.3"/>
<g transform="translate(173.9,644.1) rotate(26.5)">
<ellipse cx="0" cy="0" rx="1.68" ry="4"/>
<line x1="0" y1="-4" x2="12" y2="-4"/>
<line x1="0" y1="4" x2="12" y2="4"/>
<polyline points="4.0,-4.0 4.6,-3.7 5.2,-2.8 5.6,-1.5 5.7,0.0 5.6,1.5 5.2,2.8 4.6,3.7 4.0,4.0"/>
<polyline points="8.0,-4.0 8.6,-3.7 9.2,-2.8 9.6,-1.5 9.7,0.0 9.6,1.5 9.2,2.8 8.6,3.7 8.0,4.0"/>
<polyline points="12.0,-4.0 12.6,-3.7 13.2,-2.8 13.6,-1.5 13.7,0.0 13.6,1.5 13.2,2.8 12.6,3.7 12.0,4.0"/>
<line x1="12" y1="-4" x2="22.406885517809044" y2="-4"/>
<line x1="12" y1="4" x2="22.406885517809044" y2="4"/>
<polyline points="23.3,8.3 22.0,8.6 20.8,7.7 19.7,5.8 19.0,3.1 18.8,0.0 19.0,-3.1 19.7,-5.8 20.8,-7.7 22.0,-8.6 23.3,-8.3"/>
<line x1="22.406885517809044" y1="-8.6" x2="29.794885517809046" y2="-8.6"/>
<line x1="22.406885517809044" y1="8.6" x2="29.794885517809046" y2="8.6"/>
<ellipse cx="29.794885517809046" cy="0" rx="3.6119999999999997" ry="8.6"/>
<line x1="19.517285517809043" y1="-3.44" x2="26.544085517809044" y2="-3.44"/>
<line x1="20.239685517809043" y1="4.3" x2="26.905285517809048" y2="4.3"/>
</g>
<line x1="182.1" y1="653.8" x2="163" y2="704.7"/>
<ellipse cx="242" cy="644.6" rx="5" ry="7.6" transform="rotate(25 242 644.6)"/>
<ellipse cx="242" cy="644.6" rx="2.6" ry="4.2" transform="rotate(25 242 644.6)"/>
<line x1="238" y1="651.5" x2="213.3" y2="699.7"/>
<ellipse cx="255.4" cy="652.9" rx="5" ry="7.6" transform="rotate(25 255.4 652.9)"/>
<polyline points="258.2,652.6 257.7,654.2 256.8,655.5 255.7,656.4 254.5,656.9 253.5,656.7 252.8,655.9 252.5,654.7 252.6,653.2 253.1,651.6 254.0,650.3 255.1,649.4 256.3,648.9"/>
<line x1="253.1" y1="658.8" x2="239.7" y2="716.4"/>
<g transform="translate(267,660.9) rotate(26.7)">
<ellipse cx="0" cy="0" rx="1.68" ry="4"/>
<line x1="0" y1="-4" x2="13" y2="-4"/>
<line x1="0" y1="4" x2="13" y2="4"/>
<polyline points="4.3,-4.0 5.0,-3.7 5.5,-2.8 5.9,-1.5 6.0,0.0 5.9,1.5 5.5,2.8 5.0,3.7 4.3,4.0"/>
<polyline points="8.7,-4.0 9.3,-3.7 9.9,-2.8 10.2,-1.5 10.3,0.0 10.2,1.5 9.9,2.8 9.3,3.7 8.7,4.0"/>
<polyline points="13.0,-4.0 13.6,-3.7 14.2,-2.8 14.6,-1.5 14.7,0.0 14.6,1.5 14.2,2.8 13.6,3.7 13.0,4.0"/>
<line x1="13" y1="-3.2" x2="42.26321432283261" y2="-3.2"/>
<line x1="13" y1="3.2" x2="42.26321432283261" y2="3.2"/>
<polyline points="43.2,8.3 41.9,8.6 40.6,7.7 39.6,5.8 38.9,3.1 38.7,0.0 38.9,-3.1 39.6,-5.8 40.6,-7.7 41.9,-8.6 43.2,-8.3"/>
<line x1="42.26321432283261" y1="-8.6" x2="49.65121432283261" y2="-8.6"/>
<line x1="42.26321432283261" y1="8.6" x2="49.65121432283261" y2="8.6"/>
<ellipse cx="49.65121432283261" cy="0" rx="3.6119999999999997" ry="8.6"/>
<line x1="39.37361432283261" y1="-3.44" x2="46.40041432283261" y2="-3.44"/>
<line x1="40.09601432283261" y1="4.3" x2="46.76161432283261" y2="4.3"/>
</g>
<line x1="289.3" y1="678.9" x2="278.3" y2="739.9"/>
<line x1="220.9" y1="742.5" x2="228.1" y2="742.5"/>
<line x1="238" y1="742.5" x2="241.2" y2="742.5"/>
<line x1="260.8" y1="765.5" x2="268" y2="765.5"/>
<rect x="281" y="765" width="1" height="1" fill="#000" stroke="none"/>
<ellipse cx="343.5" cy="545.9" rx="5" ry="7.6" transform="rotate(25 343.5 545.9)"/>
<ellipse cx="343.5" cy="545.9" rx="2.6" ry="4.2" transform="rotate(25 343.5 545.9)"/>
<line x1="346.3" y1="538.6" x2="361.5" y2="484.3"/>
<ellipse cx="357.1" cy="554.4" rx="5" ry="7.6" transform="rotate(25 357.1 554.4)"/>
<polyline points="359.9,554.1 359.4,555.7 358.5,557.0 357.4,557.9 356.2,558.4 355.2,558.2 354.5,557.4 354.2,556.2 354.3,554.7 354.8,553.1 355.7,551.8 356.8,550.9 358.0,550.4"/>
<line x1="360.6" y1="547.4" x2="387.5" y2="498.5"/>
<g transform="translate(367.3,561.6) rotate(27.7)">
<ellipse cx="0" cy="0" rx="1.68" ry="4"/>
<line x1="0" y1="-4" x2="14" y2="-4"/>
<line x1="0" y1="4" x2="14" y2="4"/>
<polyline points="4.7,-4.0 5.3,-3.7 5.9,-2.8 6.2,-1.5 6.3,0.0 6.2,1.5 5.9,2.8 5.3,3.7 4.7,4.0"/>
<polyline points="9.3,-4.0 10.0,-3.7 10.5,-2.8 10.9,-1.5 11.0,0.0 10.9,1.5 10.5,2.8 10.0,3.7 9.3,4.0"/>
<polyline points="14.0,-4.0 14.6,-3.7 15.2,-2.8 15.6,-1.5 15.7,0.0 15.6,1.5 15.2,2.8 14.6,3.7 14.0,4.0"/>
<line x1="14" y1="-2.9" x2="74.83711318538153" y2="-2.9"/>
<line x1="14" y1="2.9" x2="74.83711318538153" y2="2.9"/>
<polyline points="75.8,8.3 74.5,8.6 73.2,7.7 72.2,5.8 71.5,3.1 71.2,0.0 71.5,-3.1 72.2,-5.8 73.2,-7.7 74.5,-8.6 75.8,-8.3"/>
<line x1="74.83711318538153" y1="-8.6" x2="82.22511318538153" y2="-8.6"/>
<line x1="74.83711318538153" y1="8.6" x2="82.22511318538153" y2="8.6"/>
<ellipse cx="82.22511318538153" cy="0" rx="3.6119999999999997" ry="8.6"/>
<line x1="71.94751318538152" y1="-3.44" x2="78.97431318538153" y2="-3.44"/>
<line x1="72.66991318538153" y1="4.3" x2="79.33551318538153" y2="4.3"/>
</g>
<line x1="411.1" y1="578.6" x2="436.1" y2="529.1"/>
<g transform="translate(308.8,586.9) rotate(26.5)">
<polyline points="2.5,6.6 1.7,6.4 1.0,5.7 0.4,4.7 -0.1,3.3 -0.4,1.7 -0.5,0.0 -0.4,-1.7 -0.1,-3.3 0.4,-4.7 1.0,-5.7 1.7,-6.4 2.5,-6.6"/>
<line x1="2.5" y1="-6.6" x2="31" y2="-6.6"/>
<line x1="2.5" y1="6.6" x2="30" y2="6.6"/>
<polyline points="31.2,8.0 30.4,7.6 29.6,6.7 29.0,5.4 28.5,3.8 28.2,2.0 28.1,0.0 28.2,-2.0 28.5,-3.8 29.0,-5.4 29.6,-6.7 30.4,-7.6 31.2,-8.0"/>
<line x1="31.5" y1="-8" x2="36" y2="-9.4"/>
<line x1="31.5" y1="8" x2="36" y2="9.4"/>
<ellipse cx="36.2" cy="0" rx="5" ry="9.6"/>
<ellipse cx="37" cy="0.2" rx="3.6" ry="7.2"/>
<ellipse cx="37.8" cy="0.4" rx="2.6" ry="5.6"/>
</g>
<line x1="320.9" y1="600.5" x2="298.2" y2="626.3"/>
<g transform="translate(355.7,611.8) rotate(29.4)">
<polyline points="0.9,6.0 0.1,5.6 -0.7,4.7 -1.3,3.4 -1.6,1.9 -1.8,0.2 -1.7,-1.6 -1.4,-3.1 -0.8,-4.5 -0.1,-5.4 0.8,-5.9 1.6,-5.9 2.5,-5.4"/>
<polyline points="5.6,6.0 4.8,5.6 4.0,4.7 3.4,3.4 3.0,1.9 2.9,0.2 3.0,-1.6 3.3,-3.1 3.9,-4.5 4.6,-5.4 5.4,-5.9 6.3,-5.9 7.1,-5.4"/>
<polyline points="10.3,6.0 9.4,5.6 8.7,4.7 8.1,3.4 7.7,1.9 7.6,0.2 7.7,-1.6 8.0,-3.1 8.6,-4.5 9.3,-5.4 10.1,-5.9 11.0,-5.9 11.8,-5.4"/>
<polyline points="15.0,6.0 14.1,5.6 13.4,4.7 12.8,3.4 12.4,1.9 12.2,0.2 12.3,-1.6 12.7,-3.1 13.2,-4.5 14.0,-5.4 14.8,-5.9 15.7,-5.9 16.5,-5.4"/>
<polyline points="19.6,6.0 18.8,5.6 18.0,4.7 17.4,3.4 17.1,1.9 16.9,0.2 17.0,-1.6 17.3,-3.1 17.9,-4.5 18.6,-5.4 19.5,-5.9 20.3,-5.9 21.2,-5.4"/>
<polyline points="24.3,6.0 23.5,5.6 22.7,4.7 22.1,3.4 21.7,1.9 21.6,0.2 21.7,-1.6 22.0,-3.1 22.6,-4.5 23.3,-5.4 24.1,-5.9 25.0,-5.9 25.8,-5.4"/>
<polyline points="29.0,6.0 28.1,5.6 27.4,4.7 26.8,3.4 26.4,1.9 26.3,0.2 26.4,-1.6 26.7,-3.1 27.3,-4.5 28.0,-5.4 28.8,-5.9 29.7,-5.9 30.5,-5.4"/>
<polyline points="33.7,6.0 32.8,5.6 32.1,4.7 31.5,3.4 31.1,1.9 30.9,0.2 31.0,-1.6 31.4,-3.1 31.9,-4.5 32.7,-5.4 33.5,-5.9 34.4,-5.9 35.2,-5.4"/>
<polyline points="38.3,6.0 37.5,5.6 36.7,4.7 36.1,3.4 35.8,1.9 35.6,0.2 35.7,-1.6 36.0,-3.1 36.6,-4.5 37.3,-5.4 38.2,-5.9 39.0,-5.9 39.9,-5.4"/>
<polyline points="43.0,6.0 42.2,5.6 41.4,4.7 40.8,3.4 40.4,1.9 40.3,0.2 40.4,-1.6 40.7,-3.1 41.3,-4.5 42.0,-5.4 42.8,-5.9 43.7,-5.9 44.5,-5.4"/>
<polyline points="47.7,6.0 46.8,5.6 46.1,4.7 45.5,3.4 45.1,1.9 45.0,0.2 45.1,-1.6 45.4,-3.1 46.0,-4.5 46.7,-5.4 47.5,-5.9 48.4,-5.9 49.2,-5.4"/>
<polyline points="52.4,6.0 51.5,5.6 50.8,4.7 50.2,3.4 49.8,1.9 49.6,0.2 49.7,-1.6 50.1,-3.1 50.6,-4.5 51.4,-5.4 52.2,-5.9 53.1,-5.9 53.9,-5.4"/>
<ellipse cx="56.10222811974586" cy="0" rx="3.3000000000000003" ry="6"/>
</g>
<line x1="375" y1="627.6" x2="352.6" y2="658.5"/>
<ellipse cx="419.8" cy="648.2" rx="8.6" ry="12.4" transform="rotate(24 419.8 648.2)"/>
<ellipse cx="419.8" cy="648.2" rx="6.199999999999999" ry="10.0" transform="rotate(24 419.8 648.2)"/>
<line x1="411.3" y1="660.5" x2="399.5" y2="685.6"/>
<g transform="translate(444.6,662.4)">
<path d="M-9.5,-11.7 C-13,-11.5 -14.5,-9 -14.5,-6 L-14.5,0.5 L-9,3"/>
<path d="M-8,-11.2 C-10.5,-10 -11,-8.5 -11.2,-6 L-11.6,1.8"/>
<line x1="-9.5" y1="-11.7" x2="-3.4" y2="-10.4"/>
<path d="M9,-9.4 C7,-11.5 5,-12 3.9,-12 C0,-12 -2,-11 -3.4,-9.8 C-6.5,-7 -8.3,-4 -8.5,-1.2 C-8.8,3 -8.5,7 -7.5,9.1 C-7,10.3 -6.3,11 -5.4,11.2 L5.9,11.2"/>
<path d="M-0.6,-9.8 C-4,-7 -5.8,-4 -6,-1.2 C-6.3,3 -6,7 -5.2,9.2"/>
<path d="M9,-9.4 C11.5,-6 12.6,-3.5 12.6,-1.2 C12.8,2 12.3,4.5 11.1,6.1 C9.8,8.5 8,10.3 5.9,11.2"/>
<path d="M7,-7.6 L-0.3,-5.3 C-2.5,-2.5 -3.3,0.5 -3.2,3.4"/>
<line x1="-0.3" y1="3" x2="-0.3" y2="11.2"/>
<line x1="-5.9" y1="1.9" x2="-0.3" y2="7.1"/>
<path d="M-0.3,3 C0.3,-0.5 1.6,-3 3.6,-5.2"/>
</g>
<line x1="437.3" y1="673.8" x2="428.4" y2="705.4"/>
<polygon points="505.3,665.4 535.7,682 528.5,695.4 497.5,679.8"/>
<line x1="508.2" y1="667" x2="501.2" y2="681.6"/>
<ellipse cx="509.4" cy="676.8" rx="2.2" ry="4" transform="rotate(25 509.4 676.8)"/>
<ellipse cx="526.9" cy="686.9" rx="2.2" ry="4" transform="rotate(25 526.9 686.9)"/>
<line x1="461.9" y1="774.8" x2="513" y2="688.7"/>
<path d="M513,688.7 L503.6,701.4 L506.4,703 Z" fill="#000"/>
<ellipse cx="559" cy="705.3" rx="5" ry="7.6" transform="rotate(30 559 705.3)"/>
<ellipse cx="559" cy="705.3" rx="2.6" ry="4.2" transform="rotate(30 559 705.3)"/>
<line x1="562.9" y1="698" x2="589.3" y2="646.2"/>
<ellipse cx="572" cy="713.1" rx="5" ry="7.6" transform="rotate(30 572 713.1)"/>
<polyline points="574.8,713.1 574.2,714.6 573.2,715.8 572.0,716.7 570.8,717.0 569.8,716.7 569.1,715.8 568.9,714.6 569.2,713.1 569.8,711.6 570.8,710.4 572.0,709.5 573.2,709.2"/>
<line x1="577.4" y1="706.7" x2="618.5" y2="664.2"/>
<g transform="translate(584.1,720.2) rotate(25.9)">
<ellipse cx="0" cy="0" rx="1.764" ry="4.2"/>
<line x1="0" y1="-4.2" x2="14" y2="-4.2"/>
<line x1="0" y1="4.2" x2="14" y2="4.2"/>
<polyline points="4.7,-4.2 5.3,-3.9 5.9,-3.0 6.3,-1.6 6.4,0.0 6.3,1.6 5.9,3.0 5.3,3.9 4.7,4.2"/>
<polyline points="9.3,-4.2 10.0,-3.9 10.6,-3.0 11.0,-1.6 11.1,0.0 11.0,1.6 10.6,3.0 10.0,3.9 9.3,4.2"/>
<polyline points="14.0,-4.2 14.7,-3.9 15.2,-3.0 15.6,-1.6 15.8,0.0 15.6,1.6 15.2,3.0 14.7,3.9 14.0,4.2"/>
<line x1="14" y1="-4.2" x2="22.453998266276017" y2="-4.2"/>
<line x1="14" y1="4.2" x2="22.453998266276017" y2="4.2"/>
<polyline points="23.4,8.5 22.1,8.8 20.8,7.8 19.7,5.9 19.0,3.2 18.8,0.0 19.0,-3.2 19.7,-5.9 20.8,-7.8 22.1,-8.8 23.4,-8.5"/>
<line x1="22.453998266276017" y1="-8.8" x2="29.757998266276015" y2="-8.8"/>
<line x1="22.453998266276017" y1="8.8" x2="29.757998266276015" y2="8.8"/>
<ellipse cx="29.757998266276015" cy="0" rx="3.696" ry="8.8"/>
<line x1="19.497198266276015" y1="-3.5200000000000005" x2="26.431598266276016" y2="-3.5200000000000005"/>
<line x1="20.236398266276016" y1="4.4" x2="26.801198266276014" y2="4.4"/>
</g>
<line x1="599.6" y1="722.7" x2="653.7" y2="684.1"/>
<line x1="590" y1="549.8" x2="596.7" y2="551"/>
<path d="M636.30 234.50 L631.50 234.50 L631.50 243.60 L636.30 243.60 M631.50 238.85 L635.34 238.85" stroke-width="1.0"/>
<path d="M640.50 237.23 L640.50 243.60 M640.50 239.15 Q641.08 237.23 643.00 237.23 Q645.30 237.23 645.30 239.56 L645.30 243.60" stroke-width="1.0"/>
<path d="M653.30 237.23 L653.30 244.61 Q653.30 246.43 650.90 246.43 L649.46 246.13 M653.30 239.05 Q652.82 237.23 650.90 237.23 Q648.50 237.23 648.50 240.36 Q648.50 243.60 650.90 243.60 Q652.82 243.60 653.30 241.58" stroke-width="1.0"/>
<path d="M659.90 234.50 L659.90 235.41 M659.90 237.43 L659.90 243.60" stroke-width="1.0"/>
<path d="M665.50 237.23 L665.50 243.60 M665.50 239.15 Q666.08 237.23 668.00 237.23 Q670.30 237.23 670.30 239.56 L670.30 243.60" stroke-width="1.0"/>
<path d="M674.50 240.36 L679.30 240.36 Q679.30 237.23 676.90 237.23 Q674.50 237.23 674.50 240.36 Q674.50 243.60 676.90 243.60 Q678.63 243.60 679.30 242.18" stroke-width="1.0"/>
<path d="M691.50 243.60 L691.50 234.50 L696.30 243.60 L696.30 234.50" stroke-width="1.0"/>
<path d="M702.90 237.23 Q705.30 237.23 705.30 240.41 Q705.30 243.60 702.90 243.60 Q700.50 243.60 700.50 240.41 Q700.50 237.23 702.90 237.23 Z" stroke-width="1.0"/>
<path d="M710.42 242.39 L711.57 242.39 L711.57 243.60 L710.42 243.60 Z" stroke-width="1.0" fill="#000"/>
<path d="M718.65 236.32 L720.19 234.50 L720.19 243.60" stroke-width="1.0"/>
<path d="M730.30 237.53 Q730.30 234.50 727.90 234.50 Q725.50 234.50 725.50 237.53 Q725.50 240.16 727.90 240.16 Q730.30 240.16 730.30 237.53 L730.30 240.57 Q730.30 243.60 727.71 243.60 Q726.27 243.60 725.79 242.39" stroke-width="1.0"/>
<path d="M739.01 235.71 Q738.53 234.50 737.00 234.50 Q734.50 234.50 734.50 238.04 L734.50 240.57 Q734.50 243.60 736.90 243.60 Q739.30 243.60 739.30 240.77 Q739.30 238.14 736.90 238.14 Q735.08 238.14 734.50 239.96" stroke-width="1.0"/>
<path d="M746.15 243.60 L746.15 234.50 L742.50 240.87 L747.30 240.87" stroke-width="1.0"/>
<path d="M753.90 234.50 Q756.30 234.50 756.30 237.53 L756.30 240.57 Q756.30 243.60 753.90 243.60 Q751.50 243.60 751.50 240.57 L751.50 237.53 Q751.50 234.50 753.90 234.50 Z" stroke-width="1.0"/>
<path d="M758.5,239.5 C761,236 764,236 766.5,238.5 C769,241 772,241 775.5,237.5" stroke-width="1"/>
<path d="M61.10 358.20 Q60.55 356.50 58.89 356.50 Q56.50 356.50 56.50 359.33 L56.50 362.17 Q56.50 365.00 58.89 365.00 Q60.55 365.00 61.10 363.30" stroke-width="1.0"/>
<path d="M64.50 359.05 L66.80 365.00 M69.10 359.05 L66.80 365.00 Q66.16 367.36 64.96 367.36" stroke-width="1.0"/>
<path d="M75.80 356.50 L75.80 365.00" stroke-width="1.0"/>
<path d="M83.80 356.50 L83.80 357.35 M83.80 359.24 L83.80 365.00" stroke-width="1.0"/>
<path d="M90.50 359.05 L90.50 365.00 M90.50 360.84 Q91.05 359.05 92.89 359.05 Q95.10 359.05 95.10 361.22 L95.10 365.00" stroke-width="1.0"/>
<path d="M103.10 356.50 L103.10 365.00 M103.10 360.75 Q102.64 359.05 100.80 359.05 Q98.50 359.05 98.50 362.02 Q98.50 365.00 100.80 365.00 Q102.64 365.00 103.10 363.30" stroke-width="1.0"/>
<path d="M107.50 361.98 L112.10 361.98 Q112.10 359.05 109.80 359.05 Q107.50 359.05 107.50 361.98 Q107.50 365.00 109.80 365.00 Q111.46 365.00 112.10 363.68" stroke-width="1.0"/>
<path d="M115.96 359.05 L115.96 365.00 M115.96 361.03 Q116.60 359.05 118.44 359.05 Q119.55 359.05 120.10 359.71" stroke-width="1.0"/>
<path d="M132.50 356.50 L132.50 365.00 L136.00 365.00 L137.10 363.96 L137.10 361.60 L136.09 360.56 L132.50 360.56 M136.09 360.56 L136.82 359.71 L136.82 357.44 L135.90 356.50 L132.50 356.50" stroke-width="1.0"/>
<path d="M143.80 356.50 L143.80 365.00" stroke-width="1.0"/>
<path d="M151.80 359.05 Q154.10 359.05 154.10 362.02 Q154.10 365.00 151.80 365.00 Q149.50 365.00 149.50 362.02 Q149.50 359.05 151.80 359.05 Z" stroke-width="1.0"/>
<path d="M163.10 360.47 Q162.55 359.05 160.89 359.05 Q158.50 359.05 158.50 362.02 Q158.50 365.00 160.89 365.00 Q162.55 365.00 163.10 363.58" stroke-width="1.0"/>
<path d="M166.78 356.50 L166.78 365.00 M170.73 359.05 L166.78 362.73 M168.34 361.41 L171.10 365.00" stroke-width="1.0"/>
<path d="M372.11 803.96 Q371.63 802.50 369.90 802.50 Q367.69 802.50 367.69 804.50 Q367.69 806.14 369.90 806.51 Q372.30 806.96 372.30 808.70 Q372.30 810.70 369.90 810.70 Q367.98 810.70 367.50 809.06" stroke-width="1.0"/>
<path d="M376.50 807.78 L381.30 807.78 Q381.30 804.96 378.90 804.96 Q376.50 804.96 376.50 807.78 Q376.50 810.70 378.90 810.70 Q380.63 810.70 381.30 809.42" stroke-width="1.0"/>
<path d="M384.50 807.78 L389.30 807.78 Q389.30 804.96 386.90 804.96 Q384.50 804.96 384.50 807.78 Q384.50 810.70 386.90 810.70 Q388.63 810.70 389.30 809.42" stroke-width="1.0"/>
<path d="M403.90 804.96 Q406.30 804.96 406.30 807.83 Q406.30 810.70 403.90 810.70 Q401.50 810.70 401.50 807.83 Q401.50 804.96 403.90 804.96 Z" stroke-width="1.0"/>
<path d="M414.92 802.86 Q414.34 802.50 413.67 802.50 Q412.42 802.50 412.42 803.96 L412.42 810.70 M410.79 805.23 L414.63 805.23" stroke-width="1.0"/>
<path d="M432.30 802.50 L427.50 802.50 L427.50 810.70 M427.50 806.42 L431.34 806.42" stroke-width="1.0"/>
<path d="M436.50 804.96 L436.50 808.70 Q436.50 810.70 438.71 810.70 Q440.72 810.70 441.30 808.88 M441.30 804.96 L441.30 810.70" stroke-width="1.0"/>
<path d="M444.50 807.78 L449.30 807.78 Q449.30 804.96 446.90 804.96 Q444.50 804.96 444.50 807.78 Q444.50 810.70 446.90 810.70 Q448.63 810.70 449.30 809.42" stroke-width="1.0"/>
<path d="M455.90 802.50 L455.90 810.70" stroke-width="1.0"/>
<path d="M470.50 810.70 L470.50 802.50 L473.38 802.50 Q475.30 802.50 475.30 804.50 Q475.30 806.60 473.38 806.60 L470.50 806.60 M473.19 806.60 L475.30 810.70" stroke-width="1.0"/>
<path d="M479.50 807.78 L484.30 807.78 Q484.30 804.96 481.90 804.96 Q479.50 804.96 479.50 807.78 Q479.50 810.70 481.90 810.70 Q483.63 810.70 484.30 809.42" stroke-width="1.0"/>
<path d="M490.42 803.05 L490.42 809.42 Q490.42 810.70 491.76 810.70 Q492.53 810.70 493.11 810.34 M488.79 805.23 L492.63 805.23" stroke-width="1.0"/>
<path d="M496.50 807.78 L501.30 807.78 Q501.30 804.96 498.90 804.96 Q496.50 804.96 496.50 807.78 Q496.50 810.70 498.90 810.70 Q500.63 810.70 501.30 809.42" stroke-width="1.0"/>
<path d="M505.98 804.96 L505.98 810.70 M505.98 806.87 Q506.65 804.96 508.57 804.96 Q509.72 804.96 510.30 805.60" stroke-width="1.0"/>
<path d="M513.50 804.96 L513.50 810.70 M513.50 806.69 Q514.08 804.96 516.00 804.96 Q518.30 804.96 518.30 807.06 L518.30 810.70" stroke-width="1.0"/>
<path d="M681.50 896.70 L681.50 888.50 L684.62 888.50 Q686.70 888.50 686.70 890.69 Q686.70 892.87 684.62 892.87 L681.50 892.87" stroke-width="1.0"/>
<path d="M696.87 888.50 L696.87 894.70 Q696.87 896.70 694.79 896.70 Q692.92 896.70 692.71 894.88" stroke-width="1.0"/>
<path d="M708.39 889.59 Q707.87 888.50 706.20 888.50 Q703.50 888.50 703.50 891.69 L703.50 893.97 Q703.50 896.70 706.10 896.70 Q708.70 896.70 708.70 894.15 Q708.70 891.78 706.10 891.78 Q704.12 891.78 703.50 893.42" stroke-width="1.0"/>
<path d="M713.50 896.70 L716.10 888.50 L718.70 896.70 M714.44 893.97 L717.76 893.97" stroke-width="1.0"/>
<path d="M729.49 888.50 L725.12 888.50 L724.81 892.33 Q725.75 891.60 727.20 891.60 Q729.70 891.60 729.70 894.06 Q729.70 896.70 727.10 896.70 Q725.12 896.70 724.50 895.24" stroke-width="1.0"/>
<path d="M739.49 888.50 L735.12 888.50 L734.81 892.33 Q735.75 891.60 737.20 891.60 Q739.70 891.60 739.70 894.06 Q739.70 896.70 737.10 896.70 Q735.12 896.70 734.50 895.24" stroke-width="1.0"/>
<path d="M745.71 889.78 Q746.33 888.50 748.10 888.50 Q750.39 888.50 750.39 890.41 Q750.39 892.33 748.00 892.33 Q750.70 892.42 750.70 894.51 Q750.70 896.70 748.10 896.70 Q746.12 896.70 745.50 895.24" stroke-width="1.0"/>
<path d="M756.50 896.70 L759.10 888.50 L761.70 896.70 M757.44 893.97 L760.76 893.97" stroke-width="1.0"/>
<path d="M68.41 338.44 L70.67 339.79" stroke-width="1.0"/>
<path d="M67.95 341.34 L70.22 342.69" stroke-width="1.0"/>
<path d="M68.41 347.15 Q73.39 346.18 75.83 339.89" stroke-width="1.0"/>
<path d="M82.76 337.95 L82.76 343.27" stroke-width="1.0"/>
<path d="M87.29 337.47 L87.29 343.27 Q87.29 346.66 84.12 348.11" stroke-width="1.0"/>
<path d="M93.41 338.92 L95.94 340.56" stroke-width="1.0"/>
<path d="M93.41 347.15 Q98.39 346.18 100.83 340.18" stroke-width="1.0"/>
<path d="M109.12 337.27 L106.22 342.31" stroke-width="1.0"/>
<path d="M108.94 339.02 L112.75 339.02 Q112.38 344.73 107.31 348.11" stroke-width="1.0"/>
<path d="M108.22 341.92 L111.30 343.85" stroke-width="1.0"/>
<path d="M113.29 336.21 L113.83 337.66" stroke-width="1.0"/>
<path d="M114.74 336.21 L115.28 337.66" stroke-width="1.0"/>
<path d="M119.22 338.82 L125.75 338.82 Q125.56 344.73 120.85 348.11" stroke-width="1.0"/>
<path d="M126.47 336.02 L127.01 337.47" stroke-width="1.0"/>
<path d="M127.92 336.02 L128.46 337.47" stroke-width="1.0"/>
<path d="M132.86 339.40 L139.47 339.40 L139.47 346.76 L132.86 346.76 Z" stroke-width="1.0"/>
<path d="M145.86 341.34 L146.85 343.85" stroke-width="1.0"/>
<path d="M148.67 340.76 L149.57 343.27" stroke-width="1.0"/>
<path d="M152.65 340.76 Q152.29 345.21 148.12 348.11" stroke-width="1.0"/>
<path d="M161.30 337.27 L158.41 342.31" stroke-width="1.0"/>
<path d="M161.12 339.02 L165.47 339.02 Q165.02 344.73 159.76 348.11" stroke-width="1.0"/>
<path d="M374.59 785.94 L383.13 785.94 Q382.80 792.14 376.78 795.69" stroke-width="1.0"/>
<path d="M391.69 789.60 L397.71 789.60 L396.94 794.68" stroke-width="1.0"/>
<path d="M390.05 794.68 L400.22 794.68" stroke-width="1.0"/>
<path d="M404.14 786.55 L412.13 786.55" stroke-width="1.0"/>
<path d="M408.08 786.55 L408.08 794.27" stroke-width="1.0"/>
<path d="M402.94 794.27 L413.22 794.27" stroke-width="1.0"/>
<path d="M422.00 785.53 L422.00 790.61 Q422.00 794.17 419.05 795.69" stroke-width="1.0"/>
<path d="M425.50 785.02 L425.50 794.68 Q427.80 793.66 429.66 790.61" stroke-width="1.0"/>
<path d="M437.24 785.02 L437.24 790.61" stroke-width="1.0"/>
<path d="M442.71 784.52 L442.71 790.61 Q442.71 794.17 438.88 795.69" stroke-width="1.0"/>
<path d="M454.10 784.31 L450.59 789.60" stroke-width="1.0"/>
<path d="M453.88 786.14 L459.13 786.14 Q458.58 792.14 452.24 795.69" stroke-width="1.0"/>
<path d="M453.00 789.19 L456.94 791.22" stroke-width="1.0"/>
<path d="M463.94 790.21 L474.44 790.21" stroke-width="1.0"/>
<path d="M481.59 786.04 L484.66 787.77" stroke-width="1.0"/>
<path d="M481.59 794.68 Q487.61 793.66 490.57 787.36" stroke-width="1.0"/>
<path d="M498.97 784.01 L496.78 786.55 L502.25 785.94" stroke-width="1.0"/>
<path d="M494.05 788.17 L504.44 788.17" stroke-width="1.0"/>
<path d="M499.19 786.55 Q497.88 790.10 494.05 791.63" stroke-width="1.0"/>
<path d="M499.41 788.17 Q501.71 790.61 504.66 791.63" stroke-width="1.0"/>
<path d="M500.07 790.10 L497.33 791.83" stroke-width="1.0"/>
<path d="M500.94 791.63 L496.78 793.86" stroke-width="1.0"/>
<path d="M501.82 793.25 L495.69 796.10" stroke-width="1.0"/>
<path d="M507.59 784.52 L511.32 784.52 L511.32 791.22 L507.59 791.22 Z" stroke-width="1.0"/>
<path d="M507.59 787.87 L511.32 787.87" stroke-width="1.0"/>
<path d="M512.63 784.52 L517.44 784.52 Q517.01 787.16 514.60 787.56" stroke-width="1.0"/>
<path d="M514.82 784.52 Q514.60 787.16 512.41 787.77" stroke-width="1.0"/>
<path d="M513.07 788.78 L517.22 788.78 L517.22 791.63 L513.07 791.63 Z" stroke-width="1.0"/>
<path d="M507.59 793.66 L506.94 796.10" stroke-width="1.0"/>
<path d="M510.44 793.86 L510.77 795.90" stroke-width="1.0"/>
<path d="M513.50 793.86 L513.94 795.90" stroke-width="1.0"/>
<path d="M516.57 793.66 L517.66 796.10" stroke-width="1.0"/>
<path d="M633.54 216.07 L635.20 217.44" stroke-width="1.0"/>
<path d="M632.81 219.74 L634.99 219.74 L634.99 224.15 Q633.95 225.40 632.81 226.03" stroke-width="1.0"/>
<path d="M634.99 224.35 Q636.65 226.66 643.29 226.45" stroke-width="1.0"/>
<path d="M639.56 214.71 L639.56 216.18" stroke-width="1.0"/>
<path d="M636.44 216.39 L643.08 216.39" stroke-width="1.0"/>
<path d="M638.10 216.60 L638.62 218.06" stroke-width="1.0"/>
<path d="M641.42 216.60 L640.80 218.06" stroke-width="1.0"/>
<path d="M636.86 218.27 L642.67 218.27 L642.67 224.35" stroke-width="1.0"/>
<path d="M636.86 218.27 L636.86 224.56" stroke-width="1.0"/>
<path d="M638.31 220.37 L641.22 220.37" stroke-width="1.0"/>
<path d="M639.76 218.90 L639.76 223.52" stroke-width="1.0"/>
<path d="M638.52 221.84 L641.01 221.84 L641.01 223.52 L638.52 223.52 Z" stroke-width="1.0"/>
<path d="M655.78 215.97 L663.25 215.97 L663.25 226.03 Q663.05 227.08 661.80 227.08" stroke-width="1.0"/>
<path d="M655.78 215.97 L655.78 222.89 Q655.58 225.82 654.12 227.29" stroke-width="1.0"/>
<path d="M655.78 219.53 L663.25 219.53" stroke-width="1.0"/>
<path d="M655.78 223.10 L663.25 223.10" stroke-width="1.0"/>
<path d="M659.52 215.97 L659.52 227.08" stroke-width="1.0"/>
<path d="M676.99 215.55 L683.22 215.55 L683.22 218.90 L676.99 218.90 Z" stroke-width="1.0"/>
<path d="M674.92 221.00 L685.08 221.00" stroke-width="1.0"/>
<path d="M678.24 221.00 L677.61 223.31 L683.42 223.31 Q683.42 226.66 682.18 227.29 L680.10 226.87" stroke-width="1.0"/>
<path d="M695.71 218.27 L699.65 218.27" stroke-width="1.0"/>
<path d="M697.78 215.13 L697.78 227.50" stroke-width="1.0"/>
<path d="M697.78 218.69 Q697.16 222.26 695.71 223.94" stroke-width="1.0"/>
<path d="M697.99 219.74 L699.44 221.84" stroke-width="1.0"/>
<path d="M701.31 215.13 L700.48 217.02 L701.52 216.60 L700.27 218.90 L702.14 218.48" stroke-width="1.0"/>
<path d="M704.63 215.13 L703.80 217.02 L704.84 216.60 L703.59 218.90 L705.67 218.48" stroke-width="1.0"/>
<path d="M702.76 214.92 L702.97 219.95" stroke-width="1.0"/>
<path d="M699.86 220.37 L706.50 220.37" stroke-width="1.0"/>
<path d="M701.93 220.58 Q701.52 224.56 699.65 227.08" stroke-width="1.0"/>
<path d="M700.69 222.47 L702.35 224.15" stroke-width="1.0"/>
<path d="M703.18 219.32 Q703.80 224.56 705.88 227.29 L706.29 225.40" stroke-width="1.0"/>
<path d="M705.88 221.84 Q704.22 224.98 702.35 227.08" stroke-width="1.0"/>
<path d="M705.25 218.69 L706.08 219.74" stroke-width="1.0"/>
</svg>
</body></html>
